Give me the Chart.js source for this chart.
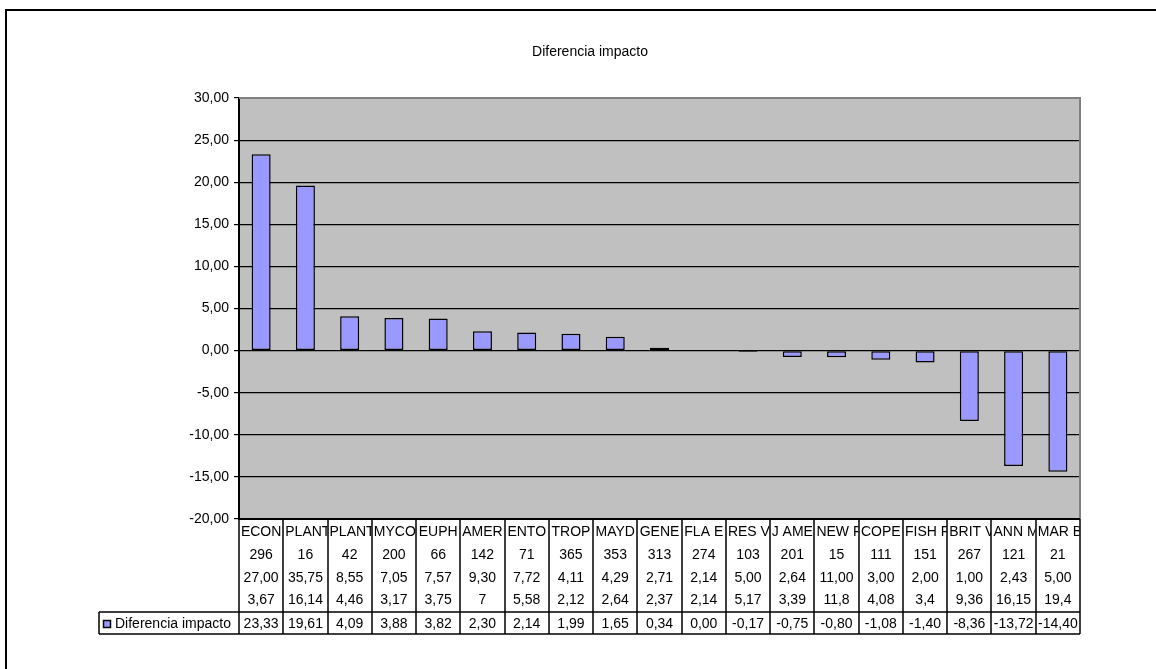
<!DOCTYPE html>
<html>
<head>
<meta charset="utf-8">
<title>Diferencia impacto</title>
<script src="https://cdn.jsdelivr.net/npm/chart.js@4.4.1/dist/chart.umd.min.js"></script>
<style>
  html, body { margin: 0; padding: 0; background: #fff; }
  canvas { display: block; }
</style>
</head>
<body>
<canvas id="chart" width="1156" height="669"></canvas>
<script>
// Journal abbreviations (first level of the category table)
const categories = ['ECON', 'PLANT', 'PLANT', 'MYCO', 'EUPH', 'AMER', 'ENTO', 'TROP', 'MAYD', 'GENE',
                    'FLA E', 'RES V', 'J AME', 'NEW F', 'COPE', 'FISH F', 'BRIT V', 'ANN M', 'MAR B'];
// Journal codes
const codes = [296, 16, 42, 200, 66, 142, 71, 365, 353, 313, 274, 103, 201, 15, 111, 151, 267, 121, 21];
// First impact value
const impactA = [27.00, 35.75, 8.55, 7.05, 7.57, 9.30, 7.72, 4.11, 4.29, 2.71,
                 2.14, 5.00, 2.64, 11.00, 3.00, 2.00, 1.00, 2.43, 5.00];
// Second impact value (as entered in the sheet)
const impactB = ['3,67', '16,14', '4,46', '3,17', '3,75', '7', '5,58', '2,12', '2,64', '2,37',
                 '2,14', '5,17', '3,39', '11,8', '4,08', '3,4', '9,36', '16,15', '19,4'];
// Difference between both impacts
const diferencia = [23.33, 19.61, 4.09, 3.88, 3.82, 2.30, 2.14, 1.99, 1.65, 0.34,
                    0.00, -0.17, -0.75, -0.80, -1.08, -1.40, -8.36, -13.72, -14.40];
const yTicks = { min: -20, max: 30, step: 5 };

const FONT = '"Liberation Sans", Arial, Helvetica, sans-serif';
const fmt = v => v.toFixed(2).replace('.', ',');

Chart.defaults.font.family = FONT;
Chart.defaults.color = '#000';

// Gray plot background, outer frame and plot border
const plotFrame = {
  id: 'plotFrame',
  beforeDraw(chart) {
    const { ctx, chartArea: a } = chart;
    ctx.save();
    ctx.fillStyle = '#fff';
    ctx.fillRect(0, 0, chart.width, chart.height);
    ctx.strokeStyle = '#000';
    ctx.lineWidth = 2;
    ctx.strokeRect(6, 10, chart.width + 20, chart.height + 20);
    ctx.fillStyle = '#C0C0C0';
    ctx.fillRect(a.left, a.top, a.right - a.left, a.bottom - a.top);
    ctx.restore();
  },
  afterDatasetsDraw(chart) {
    const { ctx, chartArea: a } = chart;
    ctx.save();
    ctx.strokeStyle = '#808080';
    ctx.lineWidth = 2;
    ctx.beginPath();
    ctx.moveTo(a.left, a.top);
    ctx.lineTo(a.right, a.top);
    ctx.lineTo(a.right, a.bottom);
    ctx.stroke();
    ctx.restore();
  }
};

// Data table under the plot: category levels plus the series row
const dataTable = {
  id: 'dataTable',
  afterDraw(chart) {
    const { ctx, chartArea: a } = chart;
    const n = categories.length;
    const w = (a.right - a.left) / n;
    const top = a.bottom;
    const rows = [
      categories,
      codes.map(String),
      impactA.map(fmt),
      impactB
    ];
    const rowY = [13, 36, 59, 81];
    const legTop = top + 93, legBot = top + 115, legY = top + 105;
    const legLeft = 99;

    ctx.save();
    ctx.strokeStyle = '#000';
    ctx.lineWidth = 1.5;
    ctx.beginPath();
    for (let i = 0; i <= n; i++) {
      const x = Math.round(a.left + i * w);
      ctx.moveTo(x, top);
      ctx.lineTo(x, legBot);
    }
    ctx.moveTo(legLeft, legTop);
    ctx.lineTo(a.right, legTop);
    ctx.moveTo(legLeft, legBot);
    ctx.lineTo(a.right, legBot);
    ctx.moveTo(legLeft, legTop);
    ctx.lineTo(legLeft, legBot);
    ctx.stroke();
    ctx.lineWidth = 2;
    ctx.beginPath();
    ctx.moveTo(a.left - 1, top);
    ctx.lineTo(a.right, top);
    ctx.stroke();

    ctx.font = '14px ' + FONT;
    ctx.fillStyle = '#000';
    ctx.textBaseline = 'middle';
    rows.forEach((row, r) => {
      row.forEach((txt, i) => {
        const x0 = a.left + i * w;
        ctx.save();
        ctx.beginPath();
        ctx.rect(x0 + 1, top, w - 1.5, legBot - top);
        ctx.clip();
        const tw = ctx.measureText(txt).width;
        if (tw > w - 3) {
          ctx.textAlign = 'left';
          ctx.fillText(txt, x0 + 2, top + rowY[r]);
        } else {
          ctx.textAlign = 'center';
          ctx.fillText(txt, x0 + w / 2, top + rowY[r]);
        }
        ctx.restore();
      });
    });

    // series row
    ctx.textAlign = 'center';
    diferencia.forEach((v, i) => {
      ctx.fillText(fmt(v), a.left + (i + 0.5) * w, legY);
    });

    // legend key
    const ds = chart.data.datasets[0];
    ctx.fillStyle = ds.backgroundColor;
    ctx.fillRect(103, legY - 4, 8, 8);
    ctx.lineWidth = 1.5;
    ctx.strokeStyle = '#000';
    ctx.strokeRect(103.5, legY - 3.5, 7, 7);
    ctx.fillStyle = '#000';
    ctx.textAlign = 'left';
    ctx.fillText(ds.label, 115, legY);
    ctx.restore();
  }
};

new Chart(document.getElementById('chart'), {
  type: 'bar',
  data: {
    labels: categories,
    datasets: [{
      label: 'Diferencia impacto',
      data: diferencia,
      backgroundColor: '#9999FF',
      borderColor: '#000',
      borderWidth: 1.5,
      borderSkipped: false,
      barPercentage: 0.43,
      categoryPercentage: 1
    }]
  },
  options: {
    responsive: false,
    animation: false,
    devicePixelRatio: 1,
    layout: { padding: { left: 100, right: 76, top: 0, bottom: 150 } },
    plugins: {
      legend: { display: false },
      tooltip: { enabled: false },
      title: {
        display: true,
        text: 'Diferencia impacto',
        color: '#000',
        font: { family: FONT, size: 14, weight: 'normal' },
        padding: { top: 43.6, bottom: 37.6 }
      }
    },
    scales: {
      x: { display: false, offset: true },
      y: {
        min: yTicks.min,
        max: yTicks.max,
        afterFit(scale) { scale.width = 139; },
        ticks: {
          stepSize: yTicks.step,
          color: '#000',
          padding: 5,
          font: { family: FONT, size: 14 },
          callback: v => fmt(v)
        },
        grid: { color: '#000', lineWidth: 1.2, drawTicks: true, tickLength: 5 },
        border: { display: true, color: '#000', width: 2 }
      }
    }
  },
  plugins: [plotFrame, dataTable]
});
</script>
</body>
</html>
